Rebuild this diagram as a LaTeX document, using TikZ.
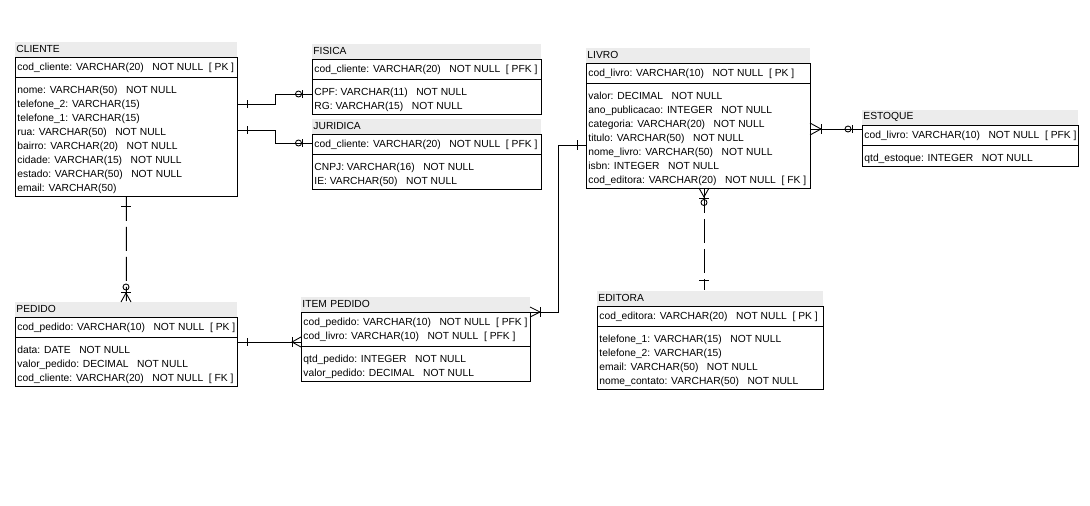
\documentclass[tikz,border=0pt]{standalone}
\usepackage{fontspec}
\setmainfont{Liberation Sans}
\definecolor{bandgray}{HTML}{ECECEC}

\begin{document}
\begin{tikzpicture}[x=0.02cm, y=-0.02cm, line width=0.5pt,
    every node/.style={font=\fontsize{5.85}{7.97}\selectfont},
    tbl/.style={draw, anchor=north west, inner sep=0pt},
    band/.style={fill=bandgray, anchor=south west, inner xsep=0.02cm, inner ysep=0pt, minimum height=0.3cm},
    rows/.style={anchor=north west, align=left, inner xsep=0.04cm, inner ysep=0pt},
    idrel/.style={dash pattern=on 0.48cm off 0.12cm}]
      \fill[white] (0,0) rectangle (1090,505);
      \useasboundingbox (0,0) rectangle (1090,505);

      % CLIENTE
      \node[band, text width=4.40cm] (clienteH) at (15,57) {CLIENTE};
      \node[tbl, minimum width=4.44cm, minimum height=2.78cm] (cliente) at (15,57) {};
      \node[rows] (clientePK) at (15,60) {\strut cod\_cliente: VARCHAR(20)\ \ \ NOT NULL\ \ [ PK ]};
      \draw (cliente.west |- 0,77) -- (cliente.east |- 0,77);
      \node[rows] (clienteCols) at (15,83) {\strut nome: VARCHAR(50)\ \ \ NOT NULL\\telefone\_2: VARCHAR(15)\\telefone\_1: VARCHAR(15)\\rua: VARCHAR(50)\ \ \ NOT NULL\\bairro: VARCHAR(20)\ \ \ NOT NULL\\cidade: VARCHAR(15)\ \ \ NOT NULL\\estado: VARCHAR(50)\ \ \ NOT NULL\\email: VARCHAR(50)};

      % FISICA
      \node[band, text width=4.54cm] (fisicaH) at (312,59) {FISICA};
      \node[tbl, minimum width=4.58cm, minimum height=1.10cm] (fisica) at (312,59) {};
      \node[rows] (fisicaPK) at (312,62) {\strut cod\_cliente: VARCHAR(20)\ \ \ NOT NULL\ \ [ PFK ]};
      \draw (fisica.west |- 0,79) -- (fisica.east |- 0,79);
      \node[rows] (fisicaCols) at (312,85) {\strut CPF: VARCHAR(11)\ \ \ NOT NULL\\RG: VARCHAR(15)\ \ \ NOT NULL};

      % JURIDICA
      \node[band, text width=4.54cm] (juridicaH) at (312,134) {JURIDICA};
      \node[tbl, minimum width=4.58cm, minimum height=1.10cm] (juridica) at (312,134) {};
      \node[rows] (juridicaPK) at (312,137) {\strut cod\_cliente: VARCHAR(20)\ \ \ NOT NULL\ \ [ PFK ]};
      \draw (juridica.west |- 0,154) -- (juridica.east |- 0,154);
      \node[rows] (juridicaCols) at (312,160) {\strut CNPJ: VARCHAR(16)\ \ \ NOT NULL\\IE: VARCHAR(50)\ \ \ NOT NULL};

      % LIVRO
      \node[band, text width=4.44cm] (livroH) at (586,63) {LIVRO};
      \node[tbl, minimum width=4.48cm, minimum height=2.50cm] (livro) at (586,63) {};
      \node[rows] (livroPK) at (586,66) {\strut cod\_livro: VARCHAR(10)\ \ \ NOT NULL\ \ [ PK ]};
      \draw (livro.west |- 0,83) -- (livro.east |- 0,83);
      \node[rows] (livroCols) at (586,89) {\strut valor: DECIMAL\ \ \ NOT NULL\\ano\_publicacao: INTEGER\ \ \ NOT NULL\\categoria: VARCHAR(20)\ \ \ NOT NULL\\titulo: VARCHAR(50)\ \ \ NOT NULL\\nome\_livro: VARCHAR(50)\ \ \ NOT NULL\\isbn: INTEGER\ \ \ NOT NULL\\cod\_editora: VARCHAR(20)\ \ \ NOT NULL\ \ [ FK ]};

      % ESTOQUE
      \node[band, text width=4.28cm] (estoqueH) at (862,125) {ESTOQUE};
      \node[tbl, minimum width=4.32cm, minimum height=0.82cm] (estoque) at (862,125) {};
      \node[rows] (estoquePK) at (862,128) {\strut cod\_livro: VARCHAR(10)\ \ \ NOT NULL\ \ [ PFK ]};
      \draw (estoque.west |- 0,145) -- (estoque.east |- 0,145);
      \node[rows] (estoqueCols) at (862,151) {\strut qtd\_estoque: INTEGER\ \ \ NOT NULL};

      % PEDIDO
      \node[band, text width=4.40cm] (pedidoH) at (15,317) {PEDIDO};
      \node[tbl, minimum width=4.44cm, minimum height=1.38cm] (pedido) at (15,317) {};
      \node[rows] (pedidoPK) at (15,320) {\strut cod\_pedido: VARCHAR(10)\ \ \ NOT NULL\ \ [ PK ]};
      \draw (pedido.west |- 0,337) -- (pedido.east |- 0,337);
      \node[rows] (pedidoCols) at (15,343) {\strut data: DATE\ \ \ NOT NULL\\valor\_pedido: DECIMAL\ \ \ NOT NULL\\cod\_cliente: VARCHAR(20)\ \ \ NOT NULL\ \ [ FK ]};

      % ITEM PEDIDO
      \node[band, text width=4.54cm] (itempedH) at (301,312) {ITEM PEDIDO};
      \node[tbl, minimum width=4.58cm, minimum height=1.38cm] (itemped) at (301,312) {};
      \node[rows] (itempedPK) at (301,315) {\strut cod\_pedido: VARCHAR(10)\ \ \ NOT NULL\ \ [ PFK ]\\cod\_livro: VARCHAR(10)\ \ \ NOT NULL\ \ [ PFK ]};
      \draw (itemped.west |- 0,346) -- (itemped.east |- 0,346);
      \node[rows] (itempedCols) at (301,352) {\strut qtd\_pedido: INTEGER\ \ \ NOT NULL\\valor\_pedido: DECIMAL\ \ \ NOT NULL};

      % EDITORA
      \node[band, text width=4.48cm] (editoraH) at (597,306) {EDITORA};
      \node[tbl, minimum width=4.52cm, minimum height=1.66cm] (editora) at (597,306) {};
      \node[rows] (editoraPK) at (597,309) {\strut cod\_editora: VARCHAR(20)\ \ \ NOT NULL\ \ [ PK ]};
      \draw (editora.west |- 0,326) -- (editora.east |- 0,326);
      \node[rows] (editoraCols) at (597,332) {\strut telefone\_1: VARCHAR(15)\ \ \ NOT NULL\\telefone\_2: VARCHAR(15)\\email: VARCHAR(50)\ \ \ NOT NULL\\nome\_contato: VARCHAR(50)\ \ \ NOT NULL};

      % cliente - fisica
      \draw (cliente.east |- 0,104) -- (275,104) -- (275,94) -- (fisica.west |- 0,94);
      \draw (247,100) -- (247,108);
      \draw (298.5,94) circle[radius=3];
      \draw (302,90) -- (302,98);
      % cliente - juridica
      \draw (cliente.east |- 0,130) -- (275,130) -- (275,143) -- (juridica.west |- 0,143);
      \draw (247,126) -- (247,134);
      \draw (298.5,143) circle[radius=3];
      \draw (302,139) -- (302,147);
      % cliente - pedido
      \draw[idrel] (cliente.south) -- (pedidoH.north);
      \draw (121,206) -- (131,206);
      \draw (126,287) circle[radius=3];
      \draw (121,292) -- (131,292);
      \draw (121,302) -- (126,293) -- (131,302);
      % pedido - item pedido
      \draw (pedido.east |- 0,342) -- (itemped.west |- 0,342);
      \draw (247,338) -- (247,346);
      \draw (292,337) -- (292,347);
      \draw (301,337) -- (292,342) -- (301,347);
      % item pedido - livro
      \draw (itemped.north east) -- (558,312) -- (558,145) -- (livro.west |- 0,145);
      \draw (530,307) -- (540,312) -- (530,317);
      \draw (540,307) -- (540,317);
      \draw (577,140) -- (577,150);
      % livro - estoque
      \draw (livro.east |- 0,129) -- (estoque.west |- 0,129);
      \draw (810,123) -- (821,129) -- (810,135);
      \draw (821,124) -- (821,134);
      \draw (848,129) circle[radius=3];
      \draw (852,125) -- (852,133);
      % livro - editora
      \draw[idrel] (livro.south -| 704,0) -- (editoraH.north -| 704,0);
      \draw (699,188) -- (704,197) -- (709,188);
      \draw (699,198) -- (709,198);
      \draw (704,202.5) circle[radius=3];
      \draw (699,280) -- (709,280);
    \end{tikzpicture}
\end{document}
